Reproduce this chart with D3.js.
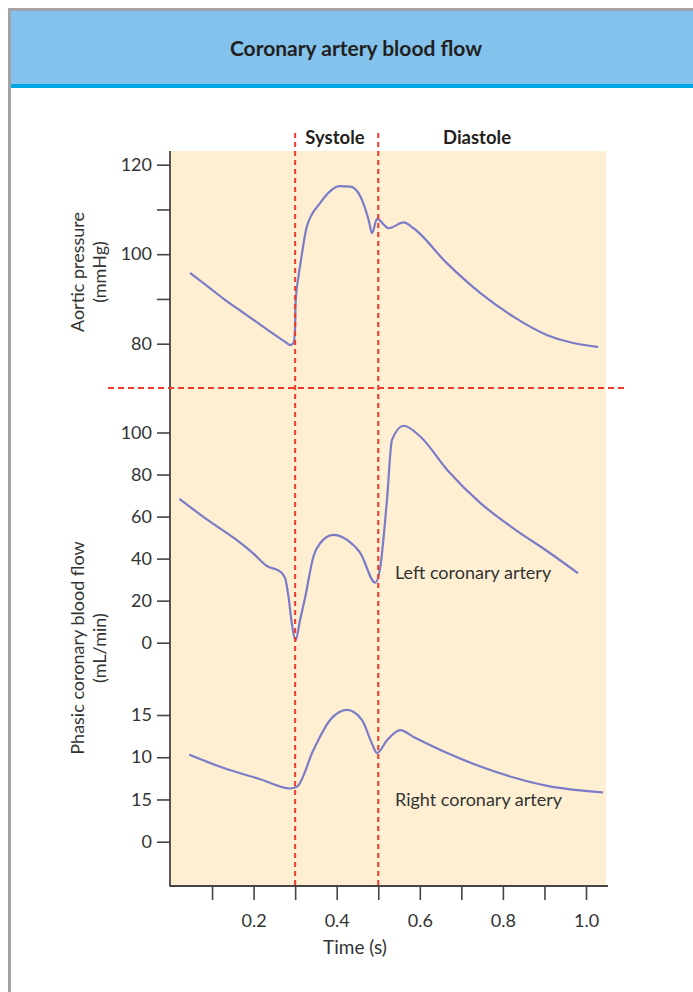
<!DOCTYPE html>
<html>
<head>
<meta charset="utf-8">
<script src="https://cdn.jsdelivr.net/npm/d3@7"></script>
<style>
  html, body { margin: 0; padding: 0; background: #fff; }
  svg { display: block; font-family: Lato, "Open Sans", sans-serif; }
</style>
</head>
<body>
<div id="chart"></div>
<script>
// Time (s) and values
const aorticTime = [0.049, 0.091, 0.131, 0.171, 0.211, 0.252, 0.276, 0.288, 0.296, 0.3, 0.301, 0.308, 0.314, 0.328, 0.36, 0.408, 0.433, 0.457, 0.477, 0.485, 0.497, 0.525, 0.561, 0.585, 0.665, 0.746, 0.826, 0.907, 1.027];
const aorticValues = [95.7, 92.7, 89.8, 87.2, 84.6, 81.9, 80.4, 79.7, 80.1, 83.8, 89, 95, 98.7, 106.1, 111.4, 115.2, 115.1, 112.9, 107.6, 104.7, 107.9, 105.8, 107.1, 105.8, 98, 91.3, 86, 81.9, 79.3];

const leftTime = [0.023, 0.079, 0.119, 0.159, 0.199, 0.232, 0.264, 0.276, 0.284, 0.292, 0.301, 0.312, 0.324, 0.344, 0.36, 0.392, 0.425, 0.457, 0.493, 0.505, 0.521, 0.533, 0.561, 0.601, 0.666, 0.746, 0.826, 0.907, 0.979];
const leftValues = [68.2, 59.9, 54.4, 48.9, 42.5, 36.5, 33.8, 30.6, 21.9, 9.2, 1, 11, 21.5, 41, 47.3, 51.3, 48.9, 42.6, 28.6, 36.2, 68, 96.5, 103.2, 98.1, 82.2, 66.4, 54.3, 43.5, 33.3];

const rightTime = [0.047, 0.135, 0.216, 0.288, 0.304, 0.344, 0.384, 0.425, 0.461, 0.485, 0.497, 0.521, 0.553, 0.585, 0.666, 0.746, 0.826, 0.907, 1.039];
const rightValues = [10.26, 8.6, 7.4, 6.3, 6.5, 10.85, 14.4, 15.6, 14.4, 11.6, 10.5, 12.0, 13.2, 12.4, 10.5, 8.9, 7.6, 6.6, 5.85];

const aorticTicks = [80, 90, 100, 110, 120];
const aorticTickLabels = ['80', '', '100', '', '120'];
const leftTicks = [0, 20, 40, 60, 80, 100];
const rightTicks = [0, 5, 10, 15];
const rightTickLabels = ['0', '15', '10', '15'];
const timeTicks = [0.1, 0.2, 0.3, 0.4, 0.5, 0.6, 0.7, 0.8, 0.9, 1.0];
const timeTickLabels = ['', '0.2', '', '0.4', '', '0.6', '', '0.8', '', '1.0'];
const phaseBounds = [0.3, 0.5];

const width = 693, height = 992;
const svg = d3.select('#chart').append('svg')
  .attr('width', width).attr('height', height);

// Frame and header
svg.append('rect').attr('x', 8).attr('y', 8).attr('width', width - 8).attr('height', 3).attr('fill', '#a3a3a5');
svg.append('rect').attr('x', 8).attr('y', 8).attr('width', 3).attr('height', height - 8).attr('fill', '#a3a3a5');
svg.append('rect').attr('x', 11).attr('y', 11).attr('width', width - 11).attr('height', 73).attr('fill', '#82c2ec');
svg.append('rect').attr('x', 11).attr('y', 84).attr('width', width - 11).attr('height', 4).attr('fill', '#00a8e1');
svg.append('text').attr('x', 356).attr('y', 56).attr('text-anchor', 'middle')
  .attr('font-size', 21).attr('font-weight', 'bold').attr('fill', '#231f20')
  .text('Coronary artery blood flow');

// Scales
const plotLeft = 170, plotRight = 607, plotTop = 151, plotBottom = 886;
const x = d3.scaleLinear().domain([0, 1]).range([170.5, 586]);
const yAortic = d3.scaleLinear().domain([80, 120]).range([343.7, 164.7]);
const yLeft = d3.scaleLinear().domain([0, 100]).range([642.7, 432.5]);
const yRight = d3.scaleLinear().domain([0, 15]).range([841.7, 715]);

// Background
svg.append('rect').attr('x', plotLeft).attr('y', plotTop)
  .attr('width', plotRight - plotLeft - 1).attr('height', plotBottom - plotTop)
  .attr('fill', '#feefd2');

// Axes
const fs = 18;
function styleAxis(g) {
  g.select('.domain').remove();
  g.selectAll('.tick line').attr('stroke', '#444').attr('stroke-width', 1.6);
  g.selectAll('.tick text').attr('font-size', fs).attr('fill', '#333')
    .attr('font-family', 'Lato, sans-serif');
}
svg.append('g').attr('transform', `translate(${plotLeft},0)`)
  .call(d3.axisLeft(yAortic).tickValues(aorticTicks).tickSize(13).tickPadding(5)
    .tickFormat((d, i) => aorticTickLabels[i]))
  .call(styleAxis);
svg.append('g').attr('transform', `translate(${plotLeft},0)`)
  .call(d3.axisLeft(yLeft).tickValues(leftTicks).tickSize(13).tickPadding(5))
  .call(styleAxis);
svg.append('g').attr('transform', `translate(${plotLeft},0)`)
  .call(d3.axisLeft(yRight).tickValues(rightTicks).tickSize(13).tickPadding(5)
    .tickFormat((d, i) => rightTickLabels[i]))
  .call(styleAxis);
svg.append('g').attr('transform', `translate(0,${plotBottom})`)
  .call(d3.axisBottom(x).tickValues(timeTicks).tickSize(14).tickPadding(14)
    .tickFormat((d, i) => timeTickLabels[i]))
  .call(styleAxis);

svg.append('line').attr('x1', plotLeft).attr('x2', plotLeft).attr('y1', plotTop).attr('y2', plotBottom + 0.8)
  .attr('stroke', '#444').attr('stroke-width', 1.8);
svg.append('line').attr('x1', plotLeft).attr('x2', plotRight + 1).attr('y1', plotBottom).attr('y2', plotBottom)
  .attr('stroke', '#444').attr('stroke-width', 1.8);

// Axis titles
const titleColor = '#333';
function vTitle(cx, cy, lines) {
  lines.forEach((t, i) => {
    svg.append('text')
      .attr('transform', `translate(${cx + i * 22},${cy}) rotate(-90)`)
      .attr('text-anchor', 'middle').attr('font-size', fs).attr('fill', titleColor)
      .text(t);
  });
}
vTitle(84, 272, ['Aortic pressure', '(mmHg)']);
vTitle(84, 648, ['Phasic coronary blood flow', '(mL/min)']);
svg.append('text').attr('x', 355).attr('y', 954).attr('text-anchor', 'middle')
  .attr('font-size', 19).attr('fill', titleColor).text('Time (s)');

// Phase labels
svg.append('text').attr('x', 335).attr('y', 144).attr('text-anchor', 'middle')
  .attr('font-size', 18.5).attr('font-weight', 'bold').attr('fill', '#231f20').text('Systole');
svg.append('text').attr('x', 477).attr('y', 144).attr('text-anchor', 'middle')
  .attr('font-size', 18.5).attr('font-weight', 'bold').attr('fill', '#231f20').text('Diastole');

// Curves
const curveColor = '#7b7bc7';
function drawCurve(times, values, y) {
  const line = d3.line().x((d, i) => x(times[i])).y(d => y(d)).curve(d3.curveMonotoneX);
  svg.append('path').datum(values).attr('d', line)
    .attr('fill', 'none').attr('stroke', curveColor).attr('stroke-width', 2.2)
    .attr('stroke-linejoin', 'round').attr('stroke-linecap', 'round');
}
drawCurve(aorticTime, aorticValues, yAortic);
drawCurve(leftTime, leftValues, yLeft);
drawCurve(rightTime, rightValues, yRight);

// Curve labels
svg.append('text').attr('x', 395).attr('y', 579).attr('font-size', fs).attr('fill', '#333').text('Left coronary artery');
svg.append('text').attr('x', 395).attr('y', 806).attr('font-size', fs).attr('fill', '#333').text('Right coronary artery');

// Dashed phase lines
const red = '#ee3a2c';
phaseBounds.forEach(t => {
  svg.append('line').attr('x1', x(t)).attr('x2', x(t)).attr('y1', 133).attr('y2', plotBottom)
    .attr('stroke', red).attr('stroke-width', 2).attr('stroke-dasharray', '5,4');
});
svg.append('line').attr('x1', 108).attr('x2', 626).attr('y1', 388).attr('y2', 388)
  .attr('stroke', red).attr('stroke-width', 2).attr('stroke-dasharray', '6,4');
</script>
</body>
</html>
